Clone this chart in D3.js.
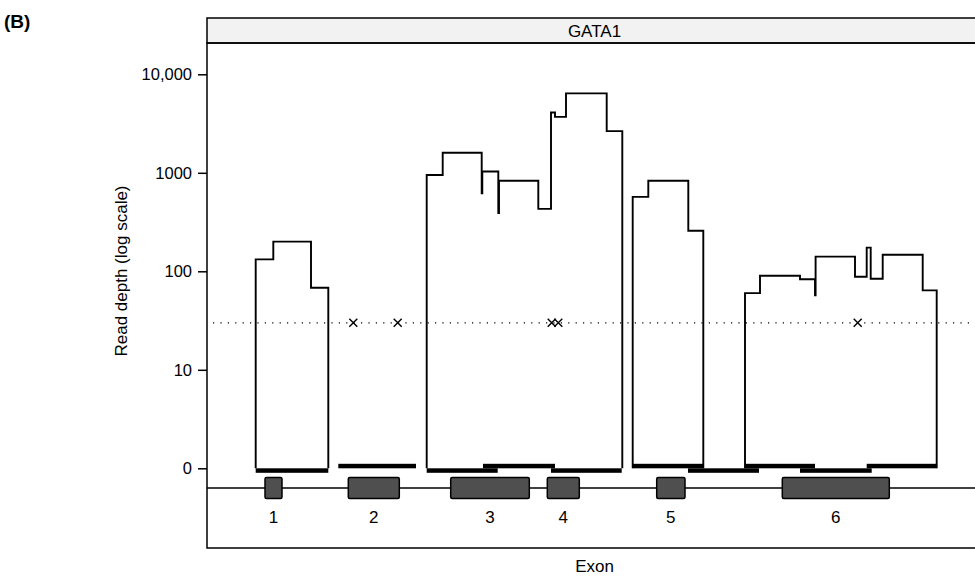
<!DOCTYPE html>
<html>
<head>
	<meta http-equiv="Content-Type" content="text/html;charset=utf-8">
	<title>GATA1 read depth</title>
	<script type="text/javascript" src="https://d3js.org/d3.v7.min.js"></script>
	<style type="text/css">
		body {
			margin: 0;
			background: white;
			font-family: "Liberation Sans", Arial, Helvetica, sans-serif;
		}
		.chart text {
			fill: black;
		}
		.cov {
			fill: none;
			stroke: black;
			stroke-width: 1.9;
			stroke-linejoin: miter;
		}
		.exon {
			fill: #4f4f4f;
			stroke: black;
			stroke-width: 1.5;
		}
	</style>
</head>
<body>
<div id="chart"></div>
<script type="text/javascript">
	// positions are bp offsets from the start of the plotted window

	var yTicks = [1, 10, 100, 1000, 10000];
	var yTickLabels = ["0", "10", "100", "1000", "10,000"];

	var exonNames = ["1", "2", "3", "4", "5", "6"];
	var exonStart = [580, 1413, 2437, 3403, 4497, 5753];
	var exonEnd = [750, 1923, 3223, 3723, 4780, 6823];

	// amplicons, alternating rows: 0 = below baseline, 1 = above
	var ampStart = [487, 1313, 2197, 2760, 3440, 4257, 4810, 5380, 5930, 6597];
	var ampEnd = [1213, 2090, 2907, 3480, 4147, 4963, 5520, 6080, 6647, 7297];
	var ampRow = [0, 1, 0, 1, 0, 1, 0, 1, 0, 1];

	// coverage steps [start, end, depth]
	var covExon1 = [[487, 663, 132], [663, 1040, 200], [1040, 1213, 68]];
	var covExon34 = [
		[2197, 2357, 950], [2357, 2747, 1600], [2747, 2753, 620], [2753, 2913, 1030],
		[2913, 2920, 390], [2920, 3313, 830], [3313, 3440, 430], [3440, 3480, 4100],
		[3480, 3590, 3700], [3590, 3997, 6400], [3997, 4153, 2650]
	];
	var covExon5 = [[4257, 4413, 570], [4413, 4813, 830], [4813, 4963, 258]];
	var covExon6 = [
		[5380, 5530, 60], [5530, 5930, 90], [5930, 6080, 83], [6080, 6086, 57],
		[6086, 6480, 141], [6480, 6597, 88], [6597, 6637, 174], [6637, 6757, 84],
		[6757, 7157, 147], [7157, 7297, 64]
	];

	var threshold = 30;
	var lowPos = [1463, 1907, 3447, 3513, 6507];

	var W = 975, H = 577;
	var panel = {left: 207, right: 982, top: 18, strip: 43, bottom: 548};
	var fs = 17;

	var svg = d3.select("#chart").append("svg")
		.attr("class", "chart")
		.attr("width", W)
		.attr("height", H);

	var x = d3.scaleLinear().domain([0, 7750]).range([panel.left, panel.right]);
	var y = d3.scaleLog().domain([1, 10000]).range([468.3, 74.3]);
	var y0 = y(1);

	// strip
	svg.append("rect")
		.attr("x", panel.left).attr("y", panel.top)
		.attr("width", panel.right - panel.left).attr("height", panel.strip - panel.top)
		.attr("fill", "#f2f2f2").attr("stroke", "black").attr("stroke-width", 1.5);
	svg.append("text")
		.attr("x", (panel.left + panel.right) / 2).attr("y", 37)
		.attr("text-anchor", "middle").attr("font-size", fs)
		.text("GATA1");

	// panel frame
	svg.append("rect")
		.attr("x", panel.left).attr("y", panel.strip)
		.attr("width", panel.right - panel.left).attr("height", panel.bottom - panel.strip)
		.attr("fill", "none").attr("stroke", "black").attr("stroke-width", 1.5);

	// y axis
	var yAxis = d3.axisLeft(y)
		.tickValues(yTicks)
		.tickFormat(function(d, i) { return yTickLabels[i]; })
		.tickSize(9)
		.tickPadding(6);
	var ya = svg.append("g")
		.attr("transform", "translate(" + panel.left + ",0)")
		.call(yAxis);
	ya.select(".domain").remove();
	ya.selectAll(".tick line").attr("stroke-width", 1.5);
	ya.selectAll(".tick text")
		.attr("font-size", 16.5)
		.attr("font-family", "'Liberation Sans', Arial, sans-serif");

	svg.append("text")
		.attr("transform", "translate(127," + 271 + ") rotate(-90)")
		.attr("text-anchor", "middle").attr("font-size", fs)
		.text("Read depth (log scale)");

	svg.append("text")
		.attr("x", (panel.left + panel.right) / 2).attr("y", 572)
		.attr("text-anchor", "middle").attr("font-size", fs)
		.text("Exon");

	svg.append("text")
		.attr("x", 4).attr("y", 28)
		.attr("font-size", 19).attr("font-weight", "bold")
		.text("(B)");

	// threshold line
	svg.append("line")
		.attr("x1", panel.left + 6).attr("x2", panel.right)
		.attr("y1", y(threshold)).attr("y2", y(threshold))
		.attr("stroke", "black").attr("stroke-width", 1.2)
		.attr("stroke-dasharray", "1.2 6.2");

	// coverage outlines
	var line = d3.line()
		.x(function(d) { return x(d[0]); })
		.y(function(d) { return y(Math.max(d[1], 1)); });

	function outline(segs) {
		var pts = [[segs[0][0], 0]];
		segs.forEach(function(s) {
			pts.push([s[0], s[2]]);
			pts.push([s[1], s[2]]);
		});
		pts.push([segs[segs.length - 1][1], 0]);
		return pts;
	}

	svg.append("g").selectAll("path")
		.data([covExon1, covExon34, covExon5, covExon6])
		.enter().append("path")
		.attr("class", "cov")
		.attr("d", function(d) { return line(outline(d)); });

	// amplicon bars
	svg.append("g").selectAll("rect")
		.data(ampStart)
		.enter().append("rect")
		.attr("x", function(d) { return x(d); })
		.attr("width", function(d, i) { return x(ampEnd[i]) - x(d); })
		.attr("y", function(d, i) { return ampRow[i] ? y0 - 4.5 : y0; })
		.attr("height", 4.5)
		.attr("fill", "black");

	// low-coverage markers
	var r = 4;
	svg.append("g").selectAll("path")
		.data(lowPos)
		.enter().append("path")
		.attr("d", function(d) {
			var cx = x(d), cy = y(threshold);
			return "M" + (cx - r) + "," + (cy - r) + "L" + (cx + r) + "," + (cy + r) +
				"M" + (cx - r) + "," + (cy + r) + "L" + (cx + r) + "," + (cy - r);
		})
		.attr("stroke", "black").attr("stroke-width", 1.4);

	// gene model
	var geneY = 488;
	svg.append("line")
		.attr("x1", panel.left).attr("x2", panel.right)
		.attr("y1", geneY).attr("y2", geneY)
		.attr("stroke", "black").attr("stroke-width", 1.5);

	svg.append("g").selectAll("rect")
		.data(exonStart)
		.enter().append("rect")
		.attr("class", "exon")
		.attr("x", function(d) { return x(d); })
		.attr("width", function(d, i) { return x(exonEnd[i]) - x(d); })
		.attr("y", geneY - 10.5)
		.attr("height", 21)
		.attr("rx", 1.5);

	svg.append("g").selectAll("text")
		.data(exonNames)
		.enter().append("text")
		.attr("x", function(d, i) { return x((exonStart[i] + exonEnd[i]) / 2); })
		.attr("y", 523)
		.attr("text-anchor", "middle").attr("font-size", fs)
		.text(function(d) { return d; });
</script>
</body>
</html>
